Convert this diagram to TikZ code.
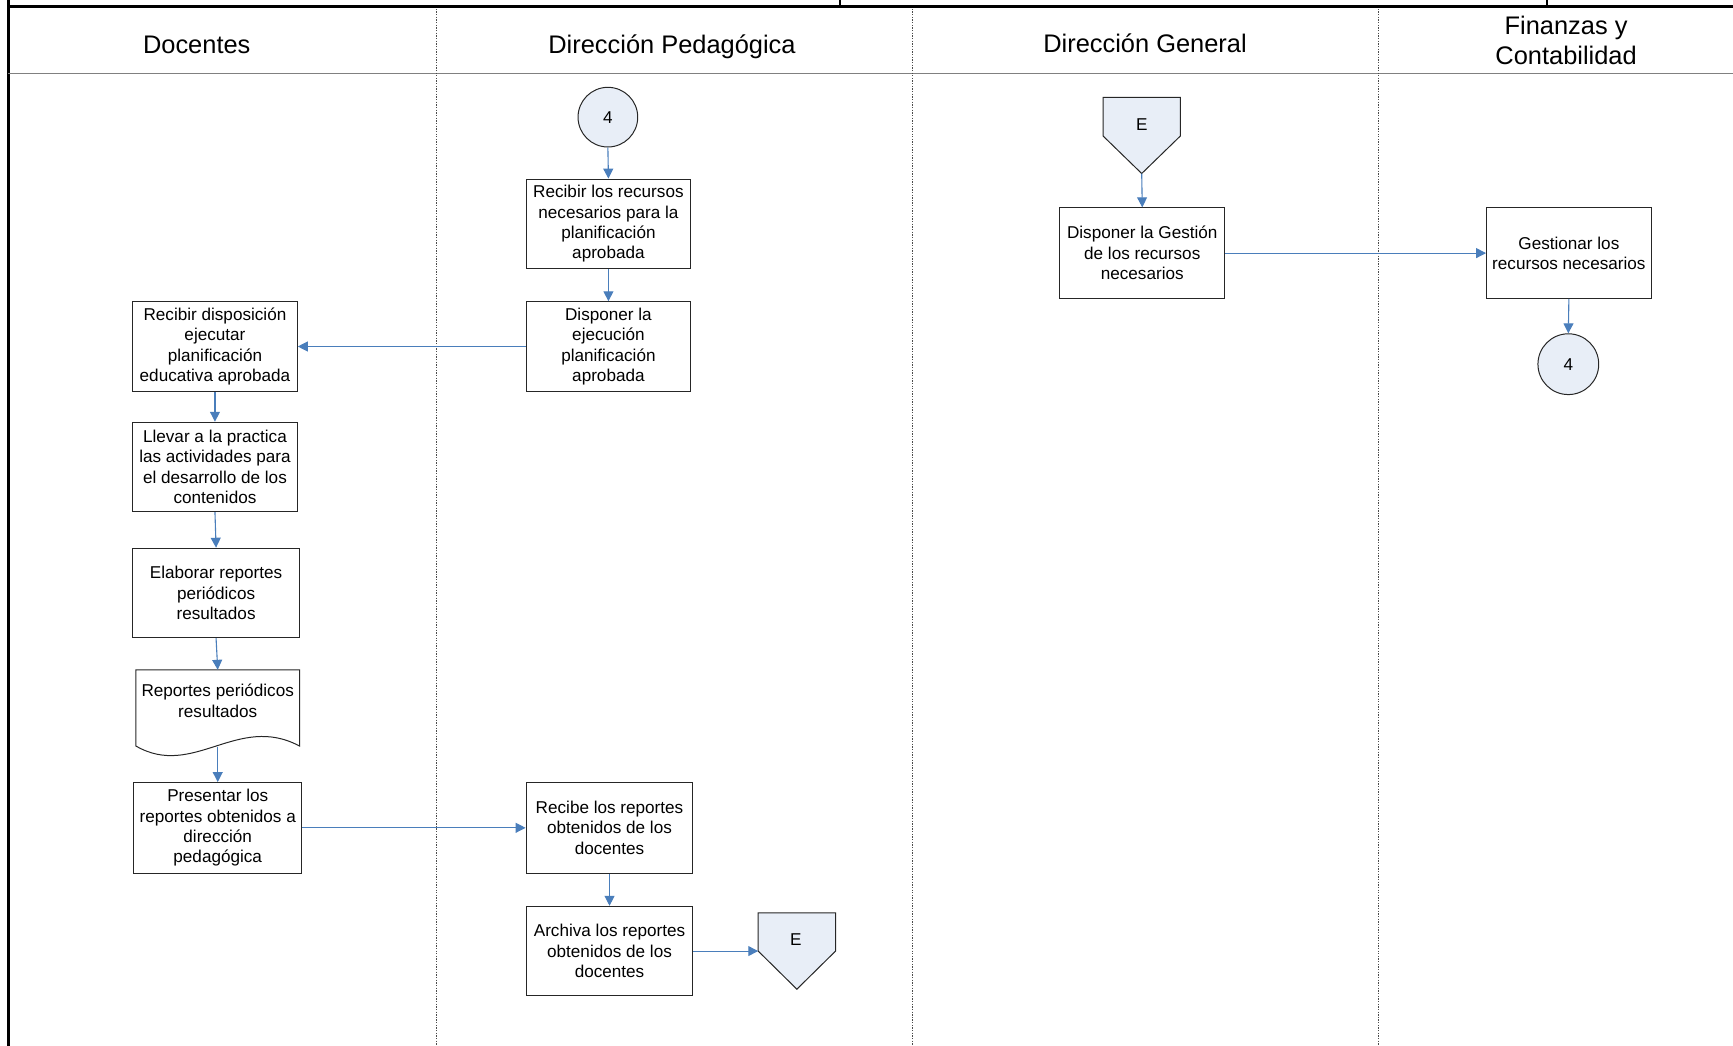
\documentclass[tikz,border=0pt]{standalone}
\usepackage{fontspec}
\setmainfont{Liberation Sans}
\usetikzlibrary{arrows.meta}
\definecolor{flowblue}{RGB}{74,126,187}
\definecolor{connfill}{RGB}{232,238,247}
\newcommand\boxfont{\fontsize{15.5}{18.5}\selectfont}
\newcommand\lanefont{\fontsize{23}{27}\selectfont}
\begin{document}
\begin{tikzpicture}[x=1pt,y=-1pt,
  proc/.style={draw=black!85,line width=0.9pt,minimum width=149pt,minimum height=81pt,
    inner sep=0pt,align=center,font=\boxfont},
  txt/.style={inner sep=0pt,align=center,font=\boxfont},
  conn/.style={circle,draw=black!85,line width=0.9pt,fill=connfill,minimum size=54pt,
    inner sep=0pt,font=\boxfont},
  offpage/.style={draw=black!85,line width=0.9pt,fill=connfill},
  shapeline/.style={draw=black!85,line width=0.9pt},
  lane/.style={inner sep=0pt,align=center,font=\lanefont},
  divider/.style={draw=black!70,line width=0.8pt,dash pattern=on 1.2pt off 1.2pt},
  flow/.style={draw=flowblue,line width=1pt,-{Triangle[length=9pt,width=9pt]}}
]
\useasboundingbox (0,0) rectangle (1568,946);

% frame and lane headers
\draw[black,line width=2.5pt] (7.5,6) -- (1568,6);
\draw[black,line width=2.5pt] (7.5,0) -- (7.5,946);
\draw[black,line width=2pt] (760,0) -- (760,6);
\draw[black,line width=2pt] (1400,0) -- (1400,6);
\draw[gray,line width=1.5pt] (7.5,66.5) -- (1568,66.5);
\draw[divider] (395,8) -- (395,946);
\draw[divider] (826,8) -- (826,946);
\draw[divider] (1247,8) -- (1247,946);

\node[lane,anchor=base] (hdoc) at (178,48.5) {Docentes};
\node[lane,anchor=base] (hped) at (608,48.5) {Dirección Pedagógica};
\node[lane,anchor=base] (hgen) at (1036,47.5) {Dirección General};
\node[lane] (hfin) at (1417,36.5) {Finanzas y\\Contabilidad};

% Docentes
\node[proc] (b1) at (194.5,313.5) {Recibir disposición\\ejecutar\\planificación\\educativa aprobada};
\node[proc] (b2) at (194.5,422.5) {Llevar a la practica\\las actividades para\\el desarrollo de los\\contenidos};
\node[proc,minimum width=151pt] (b3) at (195.5,536.5) {Elaborar reportes\\periódicos\\resultados};
\draw[shapeline] (123,606) -- (271,606) -- (271,675)
  .. controls (215,645) and (175,705) .. (123,675) -- cycle;
\node[txt] (rep) at (197,634) {Reportes periódicos\\resultados};
\coordinate (reptop) at (197,606);
\coordinate (repbot) at (197,676);
\node[proc,minimum width=152pt,minimum height=82pt] (b4) at (197,749) {Presentar los\\reportes obtenidos a\\dirección\\pedagógica};

% Dirección Pedagógica
\node[conn] (c4a) at (550,106) {4};
\node[proc] (b5) at (550.5,202.5) {Recibir los recursos\\necesarios para la\\planificación\\aprobada};
\node[proc] (b6) at (550.5,313.5) {Disponer la\\ejecución\\planificación\\aprobada};
\node[proc,minimum width=151pt,minimum height=82pt] (b7) at (551.5,749) {Recibe los reportes\\obtenidos de los\\docentes};
\node[proc,minimum width=151pt] (b8) at (551.5,860.5) {Archiva los reportes\\obtenidos de los\\docentes};
\draw[offpage] (686,826) -- (756,826) -- (756,860.5) -- (721,895) -- (686,860.5) -- cycle;
\node[txt] (eb) at (720,850) {E};
\coordinate (ebin) at (686,860.5);

% Dirección General
\draw[offpage] (998,88) -- (1068,88) -- (1068,123) -- (1033,157) -- (998,123) -- cycle;
\node[txt] (ea) at (1033,113) {E};
\coordinate (eatip) at (1033,157);
\node[proc,minimum height=82pt] (b9) at (1033.5,229) {Disponer la Gestión\\de los recursos\\necesarios};

% Finanzas y Contabilidad
\node[proc,minimum height=82pt] (b10) at (1419.5,229) {Gestionar los\\recursos necesarios};
\node[conn,minimum size=55pt] (c4b) at (1419,329.5) {4};

% connectors
\draw[flow] (c4a.south) -- (b5.north);
\draw[flow] (b5.south) -- (b6.north);
\draw[flow] (b6.west) -- (b1.east);
\draw[flow] (b1.south) -- (b2.north);
\draw[flow] (b2.south) -- (b3.north);
\draw[flow] (b3.south) -- (reptop);
\draw[flow] (repbot) -- (b4.north);
\draw[flow] (b4.east) -- (b7.west);
\draw[flow] (b7.south) -- (b8.north);
\draw[flow] (b8.east) -- (ebin);
\draw[flow] (eatip) -- (b9.north);
\draw[flow] (b9.east) -- (b10.west);
\draw[flow] (b10.south) -- (c4b.north);
\end{tikzpicture}
\end{document}
